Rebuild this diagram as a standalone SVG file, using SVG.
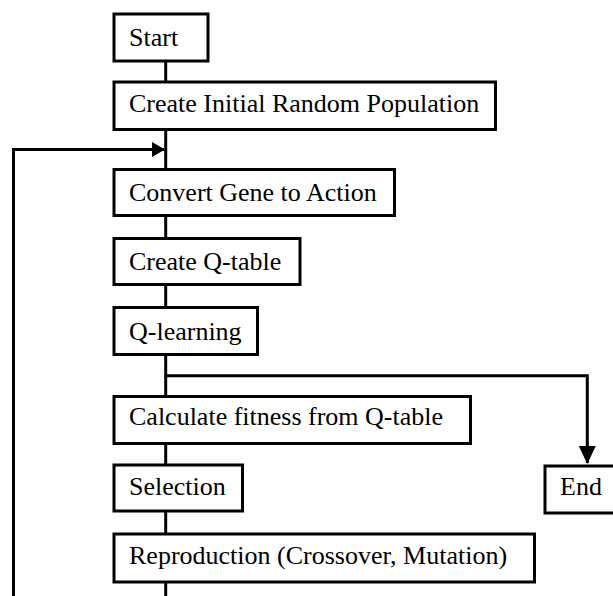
<svg xmlns="http://www.w3.org/2000/svg" width="613" height="596" viewBox="0 0 613 596">
<style>
.box{fill:#fff;stroke:#000;stroke-width:3}
.lbl{font-family:"Liberation Serif","Times New Roman","DejaVu Serif",serif;font-size:26px;fill:#000}
.ln{fill:none;stroke:#000;stroke-width:3}
</style>
<defs>
<marker id="ah" markerWidth="14" markerHeight="16" refX="12" refY="7.5" orient="auto" markerUnits="userSpaceOnUse">
<path d="M0,0 L13,7.5 L0,15 Z" fill="#000"/>
</marker>
<marker id="ahb" markerWidth="19" markerHeight="18" refX="17" refY="8.5" orient="auto" markerUnits="userSpaceOnUse">
<path d="M0,0 L18,8.5 L0,17 Z" fill="#000"/>
</marker>
</defs>
<rect width="613" height="596" fill="#fff"/>
<g id="connectors">
<line class="ln" x1="165.7" y1="62" x2="165.7" y2="81"/>
<line class="ln" x1="165.7" y1="131" x2="165.7" y2="169"/>
<line class="ln" x1="165.7" y1="217" x2="165.7" y2="238"/>
<line class="ln" x1="165.7" y1="286" x2="165.7" y2="307"/>
<line class="ln" x1="165.7" y1="356" x2="165.7" y2="396"/>
<line class="ln" x1="165.7" y1="445" x2="165.7" y2="464"/>
<line class="ln" x1="165.7" y1="512" x2="165.7" y2="533"/>
<line class="ln" x1="165.7" y1="583" x2="165.7" y2="596"/>
<polyline class="ln" points="13.5,596 13.5,149.5 164,149.5" marker-end="url(#ah)"/>
<polyline class="ln" points="165.7,375.7 587.3,375.7 587.3,463" marker-end="url(#ahb)"/>
</g>
<g id="start"><rect class="box" x="114" y="14" width="94" height="47"/><text class="lbl" x="129" y="45.5">Start</text></g>
<g id="init"><rect class="box" x="114" y="82" width="381.5" height="47.5"/><text class="lbl" x="129" y="112">Create Initial Random Population</text></g>
<g id="convert"><rect class="box" x="114" y="169.5" width="280.5" height="46"/><text class="lbl" x="129" y="201">Convert Gene to Action</text></g>
<g id="qtable"><rect class="box" x="114" y="238.5" width="186" height="46"/><text class="lbl" x="129" y="269.5">Create Q-table</text></g>
<g id="qlearning"><rect class="box" x="114" y="307.5" width="143.5" height="47"/><text class="lbl" x="129" y="340">Q-learning</text></g>
<g id="fitness"><rect class="box" x="114" y="396.5" width="356.5" height="47"/><text class="lbl" x="129" y="425">Calculate fitness from Q-table</text></g>
<g id="selection"><rect class="box" x="114" y="465" width="128.5" height="46"/><text class="lbl" x="129" y="494.5">Selection</text></g>
<g id="reproduction"><rect class="box" x="114" y="534" width="420.5" height="48"/><text class="lbl" x="129" y="563.5">Reproduction (Crossover, Mutation)</text></g>
<g id="end"><rect class="box" x="545" y="466" width="80" height="47"/><text class="lbl" x="560" y="495">End</text></g>
</svg>
